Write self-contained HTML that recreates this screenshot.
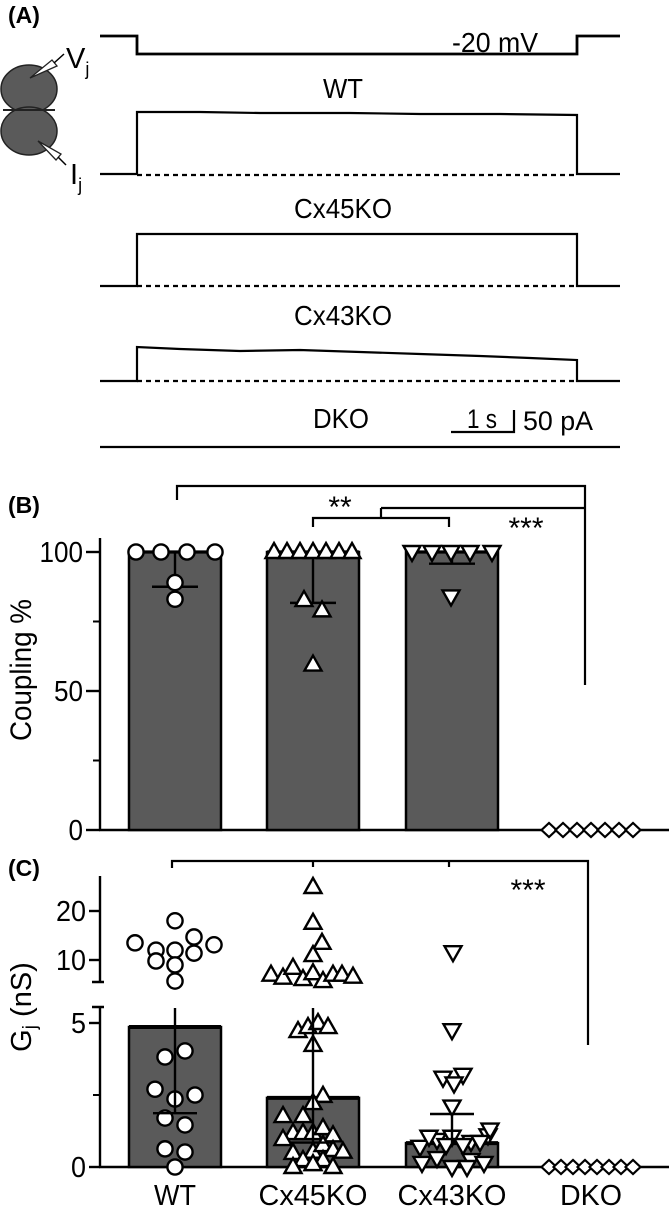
<!DOCTYPE html>
<html><head><meta charset="utf-8"><style>
html,body{margin:0;padding:0;background:#fff}
svg{display:block;font-family:"Liberation Sans",Arial,sans-serif}
</style></head><body>
<svg id="fig" width="669" height="1207" viewBox="0 0 669 1207" xmlns="http://www.w3.org/2000/svg">
<!-- Panel A -->
<g stroke="#000" fill="none">
<text x="8" y="23" font-size="23" font-weight="bold" fill="#000" stroke="none">(A)</text>
<path d="M100 36 H137 V54 H577 V36 H620" stroke-width="2.8"/>
<text x="452" y="52" font-size="28" fill="#000" stroke="none" textLength="86" lengthAdjust="spacingAndGlyphs">-20 mV</text>
<g>
<ellipse cx="29" cy="89" rx="28" ry="24" fill="#5a5a5a" stroke="#222" stroke-width="1.5"/>
<ellipse cx="29" cy="131" rx="28" ry="24" fill="#5a5a5a" stroke="#222" stroke-width="1.5"/>
<line x1="3" y1="110" x2="55" y2="110" stroke="#222" stroke-width="2"/>
<path d="M30 78 L52 60 L57 66 Z" fill="#fff" stroke="#222" stroke-width="1.3"/>
<line x1="54" y1="63" x2="64" y2="54" stroke-width="1.5"/>
<path d="M38 141 L56 160 L61 154 Z" fill="#fff" stroke="#222" stroke-width="1.3"/>
<line x1="58" y1="157" x2="66" y2="165" stroke-width="1.5"/>
</g>
<text x="66" y="68" font-size="29" fill="#000" stroke="none">V<tspan font-size="18" dy="7">j</tspan></text>
<text x="70" y="184" font-size="29" fill="#000" stroke="none">I<tspan font-size="18" dy="7">j</tspan></text>

<text x="343" y="98" font-size="28" text-anchor="middle" fill="#000" stroke="none" textLength="40" lengthAdjust="spacingAndGlyphs">WT</text>
<path d="M100 174 H137 V112 L200 112 L260 113 L350 113 L420 114 L500 114 L577 115 V174 H620" stroke-width="2.2"/>
<line x1="137" y1="175" x2="577" y2="175" stroke-width="2.2" stroke-dasharray="5,4"/>

<text x="343" y="218" font-size="28" text-anchor="middle" fill="#000" stroke="none" textLength="98" lengthAdjust="spacingAndGlyphs">Cx45KO</text>
<path d="M100 286 H137 V234 H577 V286 H620" stroke-width="2.2"/>
<line x1="137" y1="286" x2="577" y2="286" stroke-width="2.2" stroke-dasharray="5,4"/>

<text x="343" y="325" font-size="28" text-anchor="middle" fill="#000" stroke="none" textLength="98" lengthAdjust="spacingAndGlyphs">Cx43KO</text>
<path d="M100 381 H137 V347 L180 349 L240 351 L300 350 L360 352 L420 354 L480 356 L530 358 L577 360 V381 H620" stroke-width="2.2"/>
<line x1="137" y1="381" x2="577" y2="381" stroke-width="2.2" stroke-dasharray="5,4"/>

<text x="341" y="428" font-size="28" text-anchor="middle" fill="#000" stroke="none" textLength="56" lengthAdjust="spacingAndGlyphs">DKO</text>
<path d="M451 432 H514 V410" stroke-width="2.2"/>
<text x="482" y="428" font-size="27" text-anchor="middle" fill="#000" stroke="none" textLength="30" lengthAdjust="spacingAndGlyphs">1 s</text>
<text x="523" y="430" font-size="27" fill="#000" stroke="none" textLength="70" lengthAdjust="spacingAndGlyphs">50 pA</text>
<line x1="100" y1="447" x2="620" y2="447" stroke-width="2.2"/>
</g>
<g id="panelB"></g>
<g id="panelC"></g>
</svg>
<script>
// ---------- Panel B data ----------
const groups = ["WT","Cx45KO","Cx43KO","DKO"];
const bMeans = [100, 100, 100, 0];
const bSdLow = [87.5, 81.7, 95.8, 0];
const bWT = [100,100,100,100,89,83];
const bCx45 = [100,100,100,100,100,100,100,82.7,79,59.5];
const bCx43 = [100,100,100,100,100,84];
const bDKO = [0,0,0,0,0,0,0];
const bTicks = [0,50,100];
const bMinorTicks = [25,75];

// ---------- Panel C data ----------
const cMeans = [4.86, 2.4, 0.83, 0];
const cErrLow = [1.87, 0.85, 0.83, 0];
const cErrHigh = [30, 30, 1.84, 0];
const cWT = [13.5,12.0,12.0,14.7,13.1,18.0,11.4,9.8,9.0,5.7,3.82,4.03,2.7,2.36,2.5,1.7,1.46,0.63,0.52,0];
const cCx45 = [24.9,17.6,13.5,11.0,7.0,6.4,8.4,6.1,7.3,5.7,7.0,7.0,6.6,4.72,4.86,5.0,4.86,4.24,2.47,2.22,1.77,1.77,1.18,1.18,1.18,1.35,1.1,0.97,0.49,0.53,0.76,0.59,0.53,0.24,0.24,0,0.1,0];
const cCx43 = [11.6,4.75,3.1,3.2,2.9,2.1,0.7,0.94,1.05,0.87,1.1,1.3,1.05,0.76,0.76,0.87,0.14,0.31,0,0.24,0.14,0];
const cDKO = [0,0,0,0,0,0,0,0];
const cTicksUpper = [10,20];
const cTicksLower = [0,5];
const cMinorLower = [2.5];

// jitter (horizontal offsets in px, layout only)
const jBWT=[-39,-14,12,40,0,0], jBCx45=[-39,-26,-13,0,13,26,39,-9,9,0], jBCx43=[-40,-20,-1,18,40,-1];
const jB_DKO=[-42,-28,-14,0,14,28,42];
const jCWT=[-40,-19,0,19,39,0,19,-19,0,0,-10,10,-20,0,20,-10,10,-10,10,0];
const jCCx45=[0,0,9,0,-42,-30,-20,-10,0,10,20,29,40,-15,-5,5,15,0,10,0,-30,-10,-20,-10,0,10,20,-30,-20,0,10,20,30,-10,10,-20,0,20];
const jCCx43=[1,0,-9,11,2,0,-32,-15,0,19,36,38,-23,-6,11,28,-30,-15,0,19,32,15];
const jC_DKO=[-42,-30,-18,-6,6,18,30,42];

const NS="http://www.w3.org/2000/svg";
function mk(parent,tag,attrs){const e=document.createElementNS(NS,tag);for(const k in attrs)e.setAttribute(k,attrs[k]);parent.appendChild(e);return e;}
const centers=[175,313,452,591];
const barHalf=46;

function marker(g,shape,x,y){
  let e;
  if(shape==="circle") e=mk(g,"circle",{cx:x,cy:y,r:7.6,fill:"#fff",stroke:"#000","stroke-width":2.4});
  else if(shape==="up") e=mk(g,"path",{d:`M${x} ${y-9} L${x+8.5} ${y+6} L${x-8.5} ${y+6} Z`,fill:"#fff",stroke:"#000","stroke-width":2.4});
  else if(shape==="down") e=mk(g,"path",{d:`M${x} ${y+9} L${x+8.5} ${y-6} L${x-8.5} ${y-6} Z`,fill:"#fff",stroke:"#000","stroke-width":2.4});
  else e=mk(g,"path",{d:`M${x-7.5} ${y} L${x} ${y-7} L${x+7.5} ${y} L${x} ${y+7} Z`,fill:"#fff",stroke:"#000","stroke-width":2.2});
  return e;
}

// ---------- Panel B ----------
(function(){
  const g=document.getElementById("panelB");
  const yB=v=>830-v*2.78;
  const t=mk(g,"text",{x:8,y:513,"font-size":23,"font-weight":"bold"});t.textContent="(B)";
  
  
  const ax=mk(g,"line",{x1:100,y1:538,x2:100,y2:831,stroke:"#000","stroke-width":2.4});
  
  
  const xa=mk(g,"line",{x1:99,y1:830,x2:669,y2:830,stroke:"#000","stroke-width":2.4});
  
  
  bTicks.forEach(v=>{
    const l=mk(g,"line",{x1:86,y1:yB(v),x2:100,y2:yB(v),stroke:"#000","stroke-width":2.4});
    
    
    const s=String(v);
    const tx=mk(g,"text",{x:83,y:yB(v)+10,"font-size":29,"text-anchor":"end",textLength:s.length*14.5,lengthAdjust:"spacingAndGlyphs"});tx.textContent=s;
    
    
  });
  bMinorTicks.forEach(v=>{
    const l=mk(g,"line",{x1:93,y1:yB(v),x2:100,y2:yB(v),stroke:"#000","stroke-width":2});
    
    
  });
  const yl=mk(g,"text",{x:0,y:0,"font-size":30,"text-anchor":"middle",textLength:142,lengthAdjust:"spacingAndGlyphs",transform:"translate(31,670) rotate(-90)"});yl.textContent="Coupling %";
  
  
  for(let i=0;i<3;i++){
    const c=centers[i];
    const r=mk(g,"rect",{x:c-barHalf,y:yB(bMeans[i]),width:barHalf*2,height:830-yB(bMeans[i]),fill:"#5a5a5a",stroke:"#000","stroke-width":2.5});
    
    
    const e=mk(g,"path",{d:`M${c} ${yB(bMeans[i])} V${yB(bSdLow[i])} M${c-23} ${yB(bSdLow[i])} H${c+23}`,stroke:"#000","stroke-width":2.4,fill:"none"});
    
    
    const tl=mk(g,"line",{x1:c-barHalf,y1:yB(bMeans[i]),x2:c+barHalf,y2:yB(bMeans[i]),stroke:"#000","stroke-width":3.2});
    
    
  }
  const sets=[[bWT,jBWT,"circle"],[bCx45,jBCx45,"up"],[bCx43,jBCx43,"down"],[bDKO,jB_DKO,"diamond"]];
  sets.forEach((s,i)=>{
    s[0].forEach((v,k)=>{
      const m=marker(g,s[2],centers[i]+s[1][k],yB(v));
      
      
    });
  });
  const br=mk(g,"path",{d:"M177 500 V486 H585 V685 M381 508 H585 M313 527 V518 H449 V527 M381 518 V508",stroke:"#000","stroke-width":2.2,fill:"none"});
  
  
  const s1=mk(g,"text",{x:340,y:517,"font-size":30,"text-anchor":"middle"});s1.textContent="**";
  
  
  const s2=mk(g,"text",{x:526,y:538,"font-size":30,"text-anchor":"middle"});s2.textContent="***";
  
  
})();

// ---------- Panel C ----------
(function(){
  const g=document.getElementById("panelC");
  const yC=v=> v>5.55 ? 960-(v-10)*4.9 : 1167-v*28.8;
  const t=mk(g,"text",{x:8,y:876,"font-size":23,"font-weight":"bold"});t.textContent="(C)";
  
  
  const a1=mk(g,"path",{d:"M100 876 V982 M92 982 H104 M92 1007 H104 M100 1007 V1168",stroke:"#000","stroke-width":2.4,fill:"none"});
  
  
  const xa=mk(g,"line",{x1:99,y1:1167,x2:669,y2:1167,stroke:"#000","stroke-width":2.4});
  
  
  cTicksUpper.concat(cTicksLower).forEach(v=>{
    const y=yC(v);
    const l=mk(g,"line",{x1:89,y1:y,x2:100,y2:y,stroke:"#000","stroke-width":2.4});
    
    
    const s=String(v);
    const tx=mk(g,"text",{x:86,y:y+10,"font-size":29,"text-anchor":"end",textLength:s.length*15,lengthAdjust:"spacingAndGlyphs"});tx.textContent=s;
    
    
  });
  cMinorLower.forEach(v=>{
    const l=mk(g,"line",{x1:93,y1:yC(v),x2:100,y2:yC(v),stroke:"#000","stroke-width":2});
    
    
  });
  const yl=mk(g,"text",{x:0,y:0,"font-size":29,"text-anchor":"middle",transform:"translate(31,1007) rotate(-90)"});
  yl.innerHTML='G<tspan font-size="19" dy="5">j</tspan><tspan dy="-5"> (nS)</tspan>';
  
  
  for(let i=0;i<3;i++){
    const c=centers[i];
    const top=yC(cMeans[i]);
    const r=mk(g,"rect",{x:c-barHalf,y:top,width:barHalf*2,height:1167-top,fill:"#5a5a5a",stroke:"#000","stroke-width":2.5});
    
    
    const tl=mk(g,"line",{x1:c-barHalf,y1:top,x2:c+barHalf,y2:top,stroke:"#000","stroke-width":4});
    
    
  }
  const sets=[[cWT,jCWT,"circle"],[cCx45,jCCx45,"up"],[cCx43,jCCx43,"down"],[cDKO,jC_DKO,"diamond"]];
  sets.forEach((s,i)=>{
    s[0].forEach((v,k)=>{
      const m=marker(g,s[2],centers[i]+s[1][k],yC(v));
      
      
    });
  });
  for(let i=0;i<3;i++){
    const c=centers[i];
    const yh = cErrHigh[i]>5.55 ? 1008 : yC(cErrHigh[i]);
    const capY = cErrHigh[i]>5.55 ? yC(cErrLow[i]) : yh;
    const e=mk(g,"path",{d:`M${c} ${yh} V${cErrHigh[i]>5.55?yC(cErrLow[i]):yC(cMeans[i])} M${c-22} ${capY} H${c+22}`,stroke:"#000","stroke-width":2.4,fill:"none"});
    
    
  }
  const br=mk(g,"path",{d:"M172 868 V861 H588 V1045 M313 861 V867 M449 861 V867",stroke:"#000","stroke-width":2.2,fill:"none"});
  
  
  const s2=mk(g,"text",{x:528,y:900,"font-size":30,"text-anchor":"middle"});s2.textContent="***";
  
  
  const widths=[42,109,109,62];
  groups.forEach((n,i)=>{
    const tx=mk(g,"text",{x:centers[i],y:1205,"font-size":29,"text-anchor":"middle",textLength:widths[i],lengthAdjust:"spacingAndGlyphs"});
    tx.textContent=n;
    
    
  });
})();
</script>
</body></html>
